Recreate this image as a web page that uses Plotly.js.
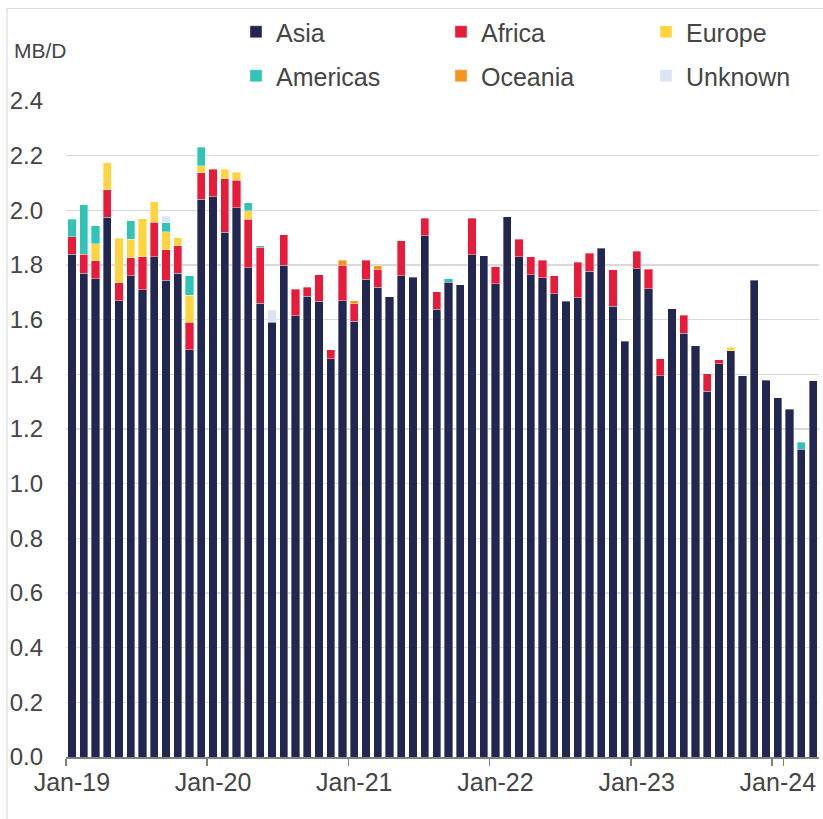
<!DOCTYPE html>
<html>
<head>
<meta charset="utf-8">
<script src="https://cdn.plot.ly/plotly-3.0.1.min.js"></script>
<style>
  html, body { margin: 0; padding: 0; background: #ffffff; }
  #chart { width: 823px; height: 819px; }
</style>
</head>
<body>
<div id="chart"></div>
<script>
const months = [
  "Jan-19","Feb-19","Mar-19","Apr-19","May-19","Jun-19","Jul-19","Aug-19","Sep-19","Oct-19","Nov-19","Dec-19",
  "Jan-20","Feb-20","Mar-20","Apr-20","May-20","Jun-20","Jul-20","Aug-20","Sep-20","Oct-20","Nov-20","Dec-20",
  "Jan-21","Feb-21","Mar-21","Apr-21","May-21","Jun-21","Jul-21","Aug-21","Sep-21","Oct-21","Nov-21","Dec-21",
  "Jan-22","Feb-22","Mar-22","Apr-22","May-22","Jun-22","Jul-22","Aug-22","Sep-22","Oct-22","Nov-22","Dec-22",
  "Jan-23","Feb-23","Mar-23","Apr-23","May-23","Jun-23","Jul-23","Aug-23","Sep-23","Oct-23","Nov-23","Dec-23",
  "Jan-24","Feb-24","Mar-24","Apr-24"
];

const asia = [
  1.84, 1.77, 1.75, 1.975, 1.67, 1.76, 1.71, 1.83, 1.745, 1.77, 1.49, 2.04,
  2.05, 1.92, 2.01, 1.79, 1.66, 1.59, 1.80, 1.615, 1.685, 1.667, 1.457, 1.67,
  1.595, 1.747, 1.718, 1.684, 1.76, 1.755, 1.907, 1.638, 1.737, 1.728, 1.837, 1.833,
  1.731, 1.977, 1.83, 1.764, 1.754, 1.694, 1.667, 1.68, 1.778, 1.862, 1.65, 1.521,
  1.787, 1.714, 1.394, 1.64, 1.551, 1.505, 1.339, 1.438, 1.486, 1.395, 1.744, 1.379,
  1.315, 1.273, 1.126, 1.376
];

const africa = [
  0.063, 0.07, 0.065, 0.10, 0.065, 0.066, 0.12, 0.126, 0.11, 0.10, 0.10, 0.097,
  0.10, 0.195, 0.10, 0.177, 0.205, 0, 0.11, 0.097, 0.034, 0.098, 0.033, 0.13,
  0.064, 0.071, 0.065, 0, 0.128, 0, 0.064, 0.065, 0, 0, 0.134, 0,
  0.063, 0, 0.064, 0.067, 0.063, 0.067, 0, 0.13, 0.065, 0, 0.132, 0,
  0.063, 0.07, 0.063, 0, 0.065, 0, 0.064, 0.015, 0, 0, 0, 0,
  0, 0, 0, 0
];

const europe = [
  0, 0, 0.063, 0.10, 0.163, 0.068, 0.14, 0.076, 0.067, 0.03, 0.10, 0.026,
  0, 0.035, 0.03, 0.031, 0, 0, 0, 0, 0, 0, 0, 0,
  0, 0, 0, 0, 0, 0, 0, 0, 0, 0, 0, 0,
  0, 0, 0, 0, 0, 0, 0, 0, 0, 0, 0, 0,
  0, 0, 0, 0, 0, 0, 0, 0, 0.014, 0, 0, 0,
  0, 0, 0, 0
];

const americas = [
  0.065, 0.18, 0.065, 0, 0, 0.067, 0, 0, 0.032, 0, 0.07, 0.067,
  0, 0, 0, 0.029, 0.005, 0, 0, 0, 0, 0, 0, 0,
  0, 0, 0, 0, 0, 0, 0, 0, 0.012, 0, 0, 0,
  0, 0, 0, 0, 0, 0, 0, 0, 0, 0, 0, 0,
  0, 0, 0, 0, 0, 0, 0, 0, 0, 0, 0, 0,
  0, 0, 0.025, 0
];

const oceania = [
  0, 0, 0, 0, 0, 0, 0, 0, 0, 0, 0, 0,
  0, 0, 0, 0, 0, 0, 0, 0, 0, 0, 0, 0.017,
  0.011, 0, 0.015, 0, 0, 0, 0, 0, 0, 0, 0, 0,
  0, 0, 0, 0, 0, 0, 0, 0, 0, 0, 0, 0,
  0, 0, 0, 0, 0, 0, 0, 0, 0, 0, 0, 0,
  0, 0, 0, 0
];

const unknown = [
  0, 0, 0, 0, 0, 0, 0, 0, 0.025, 0, 0, 0,
  0, 0, 0, 0, 0, 0.047, 0, 0, 0, 0, 0, 0,
  0, 0, 0, 0, 0, 0, 0, 0, 0, 0, 0, 0,
  0, 0, 0, 0, 0, 0, 0, 0, 0, 0, 0, 0,
  0, 0, 0, 0, 0, 0, 0, 0, 0, 0, 0, 0,
  0, 0, 0, 0
];

const tickMonths = ["Jan-19","Jan-20","Jan-21","Jan-22","Jan-23","Jan-24"];
const yTicks = [0, 0.2, 0.4, 0.6, 0.8, 1.0, 1.2, 1.4, 1.6, 1.8, 2.0, 2.2, 2.4];

const FONT = "'Liberation Sans', Arial, sans-serif";
const TXT = "#454545";

// figure geometry (px)
const W = 823, H = 819;
const M = {l: 66, r: 4, t: 101, b: 62};
const plotW = W - M.l - M.r, plotH = H - M.t - M.b;
const px2x = p => (p - M.l) / plotW;
const py2y = p => (H - M.b - p) / plotH;

const series = [
  {name: "Asia",     y: asia,     color: "#222751", lx: 278, ly: 32},
  {name: "Africa",   y: africa,   color: "#e81c3a", lx: 483, ly: 32},
  {name: "Europe",   y: europe,   color: "#ffd43f", lx: 688, ly: 32},
  {name: "Americas", y: americas, color: "#2ec4b6", lx: 278, ly: 76},
  {name: "Oceania",  y: oceania,  color: "#f7941d", lx: 483, ly: 76},
  {name: "Unknown",  y: unknown,  color: "#dbe4f4", lx: 688, ly: 76}
];

const legendId = i => i === 0 ? "legend" : "legend" + (i + 1);

const traces = series.map((s, i) => ({
  type: "bar",
  name: s.name,
  x: months,
  y: s.y.map(v => v === 0 ? null : v),
  legend: legendId(i),
  marker: {color: s.color, line: {color: "rgba(255,255,255,0.45)", width: 0.8}},
  hoverinfo: "x+y+name"
}));

const layout = {
  width: W,
  height: H,
  margin: {l: M.l, r: M.r, t: M.t, b: M.b, pad: 0, autoexpand: false},
  paper_bgcolor: "#ffffff",
  plot_bgcolor: "#ffffff",
  barmode: "stack",
  bargap: 0.3,
  font: {family: FONT, size: 24, color: TXT},
  showlegend: true,
  xaxis: {
    type: "category",
    categoryorder: "array",
    categoryarray: months,
    tickmode: "array",
    tickvals: tickMonths,
    ticktext: tickMonths,
    tickson: "boundaries",
    tickangle: 0,
    ticks: "outside",
    ticklen: 7,
    tickwidth: 1.5,
    tickcolor: "#808080",
    ticklabelstandoff: 2,
    showline: true,
    linecolor: "#808080",
    linewidth: 1.5,
    showgrid: false,
    zeroline: false,
    tickfont: {family: FONT, size: 25, color: TXT},
    fixedrange: true
  },
  yaxis: {
    range: [0, 2.4],
    tickmode: "array",
    tickvals: yTicks,
    tickformat: ".1f",
    showgrid: true,
    gridcolor: "#d9d9d9",
    gridwidth: 1.5,
    zeroline: false,
    showline: false,
    ticks: "",
    ticklabelstandoff: 22,
    tickfont: {family: FONT, size: 24, color: TXT},
    fixedrange: true
  },
  annotations: [{
    text: "MB/D",
    xref: "paper", yref: "paper",
    x: px2x(12), y: py2y(50),
    xanchor: "left", yanchor: "middle",
    showarrow: false,
    font: {family: FONT, size: 21, color: TXT}
  }],
  shapes: [{
    type: "path",
    xref: "paper", yref: "paper",
    path: "M " + px2x(7) + " " + py2y(830) + " L " + px2x(7) + " " + py2y(8.5) + " L " + px2x(830) + " " + py2y(8.5),
    line: {color: "#dcdcdc", width: 1.2}
  }]
};

series.forEach((s, i) => {
  layout[legendId(i)] = {
    orientation: "h",
    xanchor: "left",
    yanchor: "middle",
    x: px2x(s.lx - 42),
    y: py2y(s.ly),
    itemwidth: 30,
    font: {family: FONT, size: 25, color: TXT},
    bgcolor: "rgba(0,0,0,0)",
    borderwidth: 0
  };
});

Plotly.newPlot("chart", traces, layout, {displayModeBar: false, staticPlot: true});
</script>
</body>
</html>
